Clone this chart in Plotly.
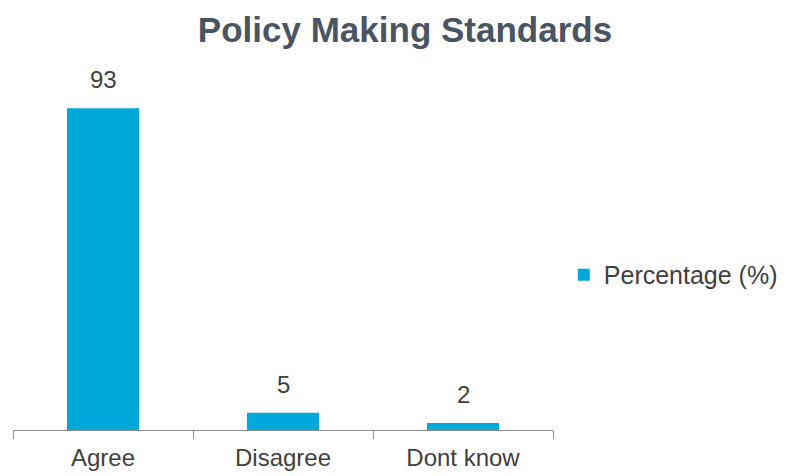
import plotly.graph_objects as go

categories = ["Agree", "Disagree", "Dont know"]
values = [93, 5, 2]
series_name = "Percentage (%)"

FONT = "Liberation Sans, Arial"
TXT = "#404040"

fig = go.Figure()
fig.add_trace(go.Bar(
    x=categories, y=values, name=series_name,
    marker=dict(color="#00A8DA", line=dict(width=0)),
    showlegend=True, hoverinfo="x+y",
))

for c, v in zip(categories, values):
    fig.add_annotation(x=c, y=v, text=str(v), showarrow=False,
                       yanchor="bottom", yshift=13,
                       font=dict(family=FONT, size=24, color=TXT))

fig.update_layout(
    width=801, height=476,
    margin=dict(l=13, r=248, t=84, b=46, autoexpand=False),
    paper_bgcolor="white", plot_bgcolor="white",
    title=dict(text="<b>Policy Making Standards</b>", x=405/801, xanchor="center",
               y=1 - 30/476, yanchor="middle",
               font=dict(family=FONT, size=35, color="#4A5462")),
    bargap=0.6,
    xaxis=dict(showline=True, linecolor="#8C8C8C", linewidth=1,
               ticks="outside", tickson="boundaries", ticklen=8, tickcolor="#8C8C8C",
               ticklabelstandoff=6, automargin=False,
               tickfont=dict(family=FONT, size=24, color=TXT),
               showgrid=False, zeroline=False),
    yaxis=dict(range=[0, 100], visible=False, showgrid=False, zeroline=False,
               automargin=False),
    legend=dict(x=1.02, xanchor="left", y=0.448, yanchor="middle",
                font=dict(family=FONT, size=25, color=TXT),
                itemwidth=30, bgcolor="rgba(0,0,0,0)"),
)

fig.write_html("out.html")
